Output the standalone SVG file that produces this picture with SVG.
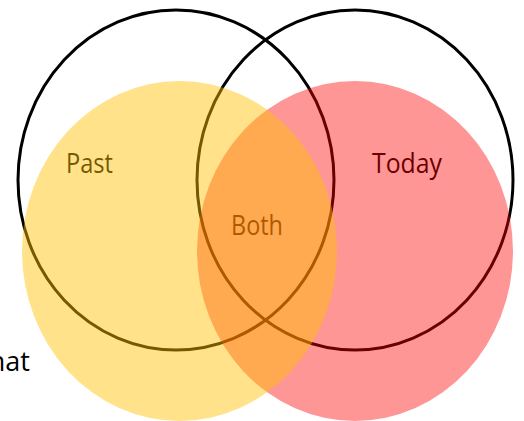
<svg xmlns="http://www.w3.org/2000/svg" width="524" height="421" viewBox="0 0 524 421">
  <style>
    .lbl { font-family: "Open Sans", "Noto Sans", sans-serif; font-size: 27px; fill: #000; }
    .ring { fill: none; stroke: #000; stroke-width: 3; }
  </style>
  <rect x="0" y="0" width="524" height="421" fill="#fff"/>
  <g id="labels">
    <text class="lbl" x="30" y="371" text-anchor="end">What</text>
    <text class="lbl" x="66" y="173" textLength="47" lengthAdjust="spacingAndGlyphs">Past</text>
    <text class="lbl" x="372" y="173" textLength="70" lengthAdjust="spacingAndGlyphs">Today</text>
    <text class="lbl" x="231" y="235" textLength="52" lengthAdjust="spacingAndGlyphs">Both</text>
  </g>
  <g id="outline-circles">
    <ellipse id="past-ring" class="ring" cx="176" cy="180" rx="158" ry="170"/>
    <ellipse id="today-ring" class="ring" cx="355" cy="180" rx="158" ry="170"/>
  </g>
  <g id="fills">
    <ellipse id="today-fill" cx="355" cy="251" rx="158" ry="170" fill="#FF0000" fill-opacity="0.41"/>
    <ellipse id="past-fill" cx="179.5" cy="251" rx="157.5" ry="170" fill="#FFC000" fill-opacity="0.46"/>
  </g>
</svg>
